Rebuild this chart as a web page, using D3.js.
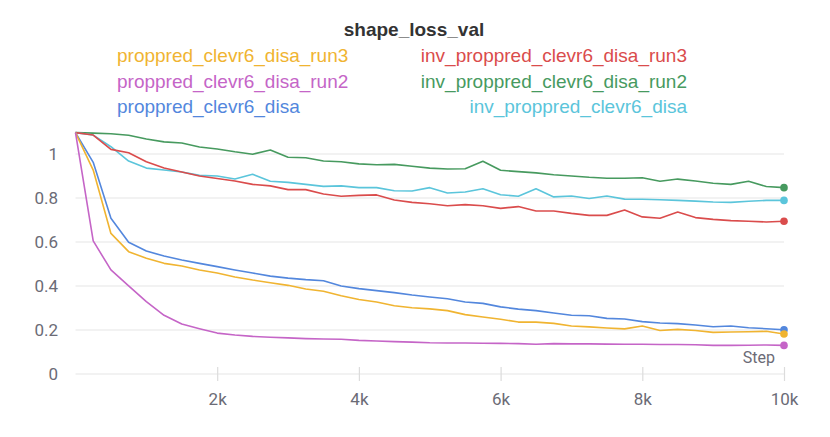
<!DOCTYPE html>
<html>
<head>
<meta charset="utf-8">
<script src="https://cdn.jsdelivr.net/npm/d3@7"></script>
<style>
  body { margin: 0; background: #fff; }
  #chart { width: 830px; height: 437px; }
</style>
</head>
<body>
<div id="chart"></div>
<script>
var steps = [0, 250, 500, 750, 1000, 1250, 1500, 1750, 2000, 2250, 2500, 2750, 3000, 3250, 3500, 3750,
  4000, 4250, 4500, 4750, 5000, 5250, 5500, 5750, 6000, 6250, 6500, 6750, 7000, 7250, 7500, 7750,
  8000, 8250, 8500, 8750, 9000, 9250, 9500, 9750, 10000];

var run3 = [1.097, 0.927, 0.639, 0.556, 0.526, 0.503, 0.491, 0.473, 0.459, 0.441, 0.427, 0.415, 0.403, 0.386,
  0.376, 0.356, 0.339, 0.327, 0.31, 0.301, 0.296, 0.288, 0.27, 0.259, 0.249, 0.236, 0.236, 0.23, 0.218, 0.214,
  0.209, 0.205, 0.218, 0.198, 0.203, 0.198, 0.189, 0.191, 0.192, 0.194, 0.182];
var run2 = [1.097, 0.605, 0.473, 0.401, 0.329, 0.267, 0.227, 0.206, 0.186, 0.177, 0.171, 0.167, 0.164, 0.161,
  0.159, 0.158, 0.153, 0.15, 0.147, 0.145, 0.142, 0.141, 0.141, 0.14, 0.139, 0.138, 0.135, 0.138, 0.137, 0.137,
  0.136, 0.135, 0.135, 0.134, 0.134, 0.133, 0.13, 0.13, 0.131, 0.132, 0.13];
var run1 = [1.097, 0.962, 0.708, 0.599, 0.559, 0.536, 0.518, 0.503, 0.488, 0.473, 0.459, 0.445, 0.436, 0.429,
  0.424, 0.4, 0.388, 0.379, 0.37, 0.359, 0.35, 0.342, 0.327, 0.321, 0.305, 0.295, 0.288, 0.277, 0.267, 0.265,
  0.253, 0.25, 0.238, 0.232, 0.229, 0.223, 0.215, 0.218, 0.21, 0.206, 0.201];
var invRun3 = [1.097, 1.086, 1.021, 1.006, 0.965, 0.936, 0.918, 0.9, 0.889, 0.877, 0.862, 0.855, 0.838, 0.838,
  0.818, 0.808, 0.812, 0.814, 0.791, 0.78, 0.774, 0.765, 0.77, 0.765, 0.753, 0.761, 0.741, 0.741, 0.73, 0.721,
  0.721, 0.745, 0.714, 0.708, 0.736, 0.711, 0.703, 0.697, 0.694, 0.691, 0.694];
var invRun2 = [1.097, 1.095, 1.092, 1.085, 1.068, 1.055, 1.05, 1.032, 1.023, 1.01, 0.999, 1.018, 0.985, 0.983,
  0.968, 0.965, 0.955, 0.951, 0.953, 0.944, 0.936, 0.932, 0.933, 0.967, 0.926, 0.92, 0.914, 0.906, 0.9, 0.894,
  0.89, 0.89, 0.892, 0.876, 0.886, 0.877, 0.867, 0.862, 0.876, 0.852, 0.847];
var invRun1 = [1.097, 1.086, 1.033, 0.968, 0.936, 0.927, 0.918, 0.903, 0.9, 0.886, 0.908, 0.876, 0.871, 0.862,
  0.853, 0.855, 0.847, 0.847, 0.833, 0.832, 0.847, 0.823, 0.827, 0.842, 0.815, 0.808, 0.842, 0.805, 0.809, 0.798,
  0.809, 0.795, 0.794, 0.792, 0.789, 0.786, 0.782, 0.78, 0.785, 0.789, 0.789];

var seriesNames = ["proppred_clevr6_disa_run3", "proppred_clevr6_disa_run2", "proppred_clevr6_disa",
  "inv_proppred_clevr6_disa_run3", "inv_proppred_clevr6_disa_run2", "inv_proppred_clevr6_disa"];
var seriesValues = [run3, run2, run1, invRun3, invRun2, invRun1];
var colors = ["#f0b431", "#c565c7", "#5387dd", "#da4c4c", "#479a5f", "#5bc5db"];

var yTicks = [0, 0.2, 0.4, 0.6, 0.8, 1];
var xTicks = [2000, 4000, 6000, 8000, 10000];
var xTickLabels = ["2k", "4k", "6k", "8k", "10k"];

var width = 830, height = 437;
var labelColor = "#6b6b76";
var gridColor = "#e6e6e6";

var svg = d3.select("#chart")
  .append("svg")
  .attr("width", width)
  .attr("height", height);

var x = d3.scaleLinear().domain([0, 10000]).range([75.5, 784]);
var y = d3.scaleLinear().domain([0, 1.1]).range([374, 132]);

// grid
svg.append("g")
  .selectAll("line")
  .data(yTicks)
  .join("line")
  .attr("x1", x(0)).attr("x2", x(10000))
  .attr("y1", d => y(d)).attr("y2", d => y(d))
  .attr("stroke", gridColor)
  .attr("stroke-width", 1.2);

// y labels
svg.append("g")
  .selectAll("text")
  .data(yTicks)
  .join("text")
  .attr("x", 58)
  .attr("y", d => y(d) + 6)
  .attr("text-anchor", "end")
  .attr("font-family", "Roboto, sans-serif")
  .attr("font-size", 17)
  .attr("fill", labelColor)
  .text(d => d3.format("")(d));

// x axis
var xAxis = d3.axisBottom(x)
  .tickValues(xTicks)
  .tickSize(14)
  .tickFormat((d, i) => xTickLabels[i]);

var gx = svg.append("g")
  .attr("transform", "translate(0,367)")
  .call(xAxis);
gx.select(".domain").remove();
gx.selectAll(".tick line").attr("stroke", "#dcdcdc").attr("stroke-width", 1.2);
gx.selectAll(".tick text")
  .attr("y", 26)
  .attr("font-family", "Roboto, sans-serif")
  .attr("font-size", 17)
  .attr("fill", labelColor);

svg.append("text")
  .attr("x", 775)
  .attr("y", 363)
  .attr("text-anchor", "end")
  .attr("font-family", "Roboto, sans-serif")
  .attr("font-size", 16)
  .attr("fill", labelColor)
  .text("Step");

// lines
var line = d3.line()
  .x((d, i) => x(steps[i]))
  .y(d => y(d));

var drawOrder = [4, 5, 3, 2, 0, 1];
drawOrder.forEach(function (k) {
  svg.append("path")
    .datum(seriesValues[k])
    .attr("d", line)
    .attr("fill", "none")
    .attr("stroke", colors[k])
    .attr("stroke-width", 1.6)
    .attr("stroke-linejoin", "round");
});

drawOrder.forEach(function (k) {
  var vals = seriesValues[k];
  svg.append("circle")
    .attr("cx", x(steps[steps.length - 1]))
    .attr("cy", y(vals[vals.length - 1]))
    .attr("r", 3.8)
    .attr("fill", colors[k]);
});

// title
svg.append("text")
  .attr("x", 414)
  .attr("y", 36)
  .attr("text-anchor", "middle")
  .attr("font-family", "Liberation Sans, Arial, sans-serif")
  .attr("font-weight", "bold")
  .attr("font-size", 19)
  .attr("fill", "#333")
  .text("shape_loss_val");

// legend
var legendRows = [62, 87.5, 113];
seriesNames.forEach(function (name, k) {
  var left = k < 3;
  svg.append("text")
    .attr("x", left ? 117 : 687)
    .attr("y", legendRows[k % 3])
    .attr("text-anchor", left ? "start" : "end")
    .attr("font-family", "Liberation Sans, Arial, sans-serif")
    .attr("font-size", 19)
    .attr("fill", colors[k])
    .text(name);
});
</script>
</body>
</html>
